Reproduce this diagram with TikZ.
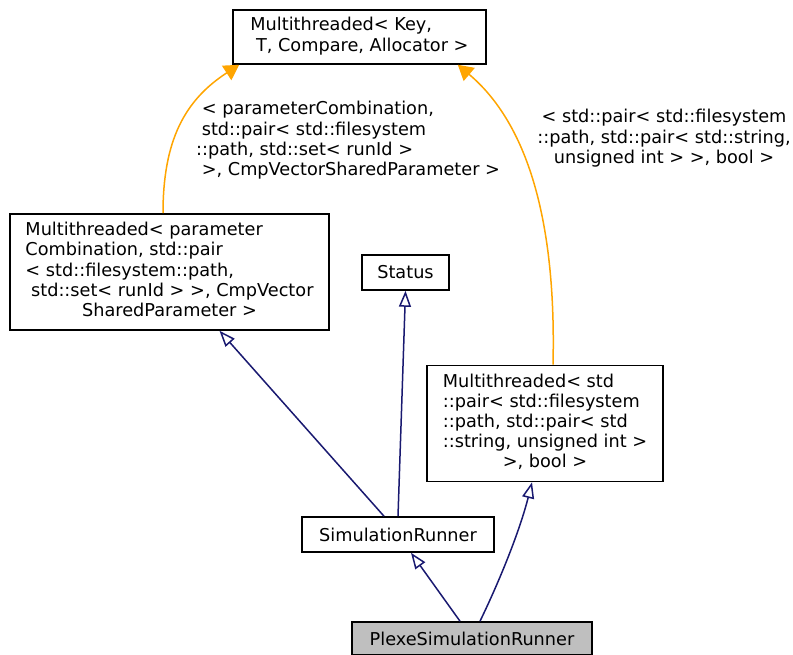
\documentclass[tikz,border=0pt]{standalone}
\usepackage{fontspec}
\setmainfont{DejaVu Sans}
\usetikzlibrary{arrows.meta}
\definecolor{navyc}{HTML}{191970}
\definecolor{orangec}{HTML}{FFA500}
\definecolor{greyc}{HTML}{BFBFBF}
\begin{document}
\begin{tikzpicture}[x=1pt,y=-1pt,
  every node/.style={font=\fontsize{17.7}{20.2}\selectfont},
  box/.style={draw=black, line width=1.6pt, inner sep=0pt, fill=white},
  lbl/.style={inner sep=0pt},
  inh/.style={draw=navyc, line width=1.5pt, -{Triangle[open, length=16pt, width=12pt, fill=white]}},
  tmpl/.style={draw=orangec, line width=1.5pt, -{Triangle[length=15pt, width=17pt]}}]
\useasboundingbox (0,0) rectangle (793,655);

\node[box, minimum width=253pt, minimum height=54pt] (top) at (359.5,37)
  {\begin{tabular}{@{}l@{}}Multithreaded< Key,\\ \ T, Compare, Allocator >\end{tabular}};

\node[box, minimum width=319pt, minimum height=116pt] (left) at (169.5,272)
  {\begin{tabular}{@{}l@{}}Multithreaded< parameter\\Combination, std::pair\\< std::filesystem::path,\\ \ std::set< runId > >, CmpVector\\ \multicolumn{1}{@{}c@{}}{SharedParameter >}\end{tabular}};

\node[box, minimum width=87pt, minimum height=35pt] (status) at (405.5,272.5) {Status};

\node[box, minimum width=236pt, minimum height=116pt] (right) at (545,423.5)
  {\begin{tabular}{@{}l@{}}Multithreaded< std\\::pair< std::filesystem\\::path, std::pair< std\\::string, unsigned int >\\ \multicolumn{1}{@{}c@{}}{>, bool >}\end{tabular}};

\node[box, minimum width=192pt, minimum height=35pt] (sim) at (398,534.5) {SimulationRunner};

\node[box, fill=greyc, minimum width=240pt, minimum height=33pt] (plexe) at (472,638.5) {PlexeSimulationRunner};

% template instantiation edges
\draw[tmpl] ([xshift=-6.5pt]left.north) .. controls (163,140) and (185,100) .. ([xshift=7pt]top.south west);
\draw[tmpl] ([xshift=8pt]right.north) .. controls (556,240) and (535,130) .. ([xshift=-29pt]top.south east);

\node[lbl, anchor=base west] (lblL) at (196,115)
  {\begin{tabular}[t]{@{}l@{}}\ < parameterCombination,\\ \ std::pair< std::filesystem\\::path, std::set< runId >\\ \ >, CmpVectorSharedParameter >\end{tabular}};
\node[lbl, anchor=base] (lblR) at (664,123)
  {\begin{tabular}[t]{@{}c@{}}< std::pair< std::filesystem\\::path, std::pair< std::string,\\unsigned int > >, bool >\end{tabular}};

% inheritance edges
\draw[inh] ([xshift=-14pt]sim.north) -- ([xshift=50pt]left.south);
\draw[inh] (sim.north) -- (status.south);
\draw[inh] ([xshift=-12pt]plexe.north) -- ([xshift=13pt]sim.south);
\draw[inh] ([xshift=8pt]plexe.north) .. controls (500,580) and (520,530) .. ([xshift=-13pt]right.south);
\end{tikzpicture}
\end{document}
